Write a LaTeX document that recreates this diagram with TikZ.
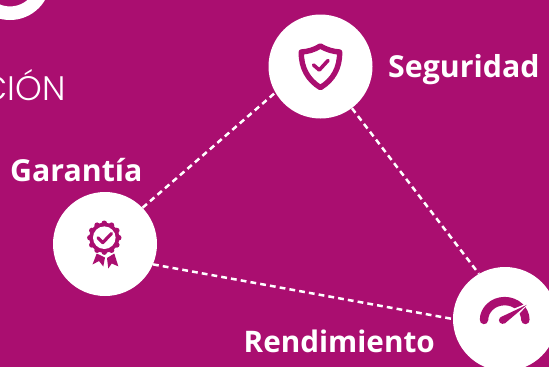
\documentclass[tikz,border=0pt]{standalone}
\usepackage{fontspec}
\setmainfont{Open Sans}[UprightFont=* Bold,BoldFont=* Bold]
\newfontfamily\thinfont{Poppins}[UprightFont=* Light]
\definecolor{mag}{HTML}{AA0E70}
\tikzset{
  hub/.style={circle,fill=white,draw=none,minimum size=104pt,inner sep=0pt},
  link/.style={draw=white,line width=2.5pt,dash pattern=on 5.8pt off 4.1pt},
  lab/.style={text=white,font=\fontsize{30.3}{32}\selectfont,inner sep=0pt,anchor=base west},
  ico/.style={draw=mag,line join=round,line cap=round},
  tick/.style={ico,line width=3.6pt}
}
\begin{document}
\begin{tikzpicture}[x=1pt,y=-1pt]
\useasboundingbox (0,0) rectangle (549,367);
\fill[mag] (0,0) rectangle (549,367);
\begin{scope}
\clip (0,0) rectangle (549,367);
% partial ring, top left
\draw[white,line width=13.6pt] (10,-20.6) circle[radius=33.8pt];
\node[text=white,font=\thinfont\fontsize{34}{34}\selectfont,inner sep=0pt,anchor=base east] (cion) at (66,100) {CIÓN};
% hubs
\node[hub] (seg) at (320.5,66.5) {};
\node[hub] (gar) at (105,244) {};
\node[hub] (ren) at (505,319) {};
% connectors
\path[link] (gar.44) -- (seg.210);
\path[link] (seg.-53) -- (ren.120);
\path[link] (gar.-23) -- (ren.180);
% labels
\node[lab] (lseg) at (388,77) {Seguridad};
\node[lab] (lgar) at (10,181) {Garantía};
\node[lab,font=\fontsize{29.7}{32}\selectfont] (lren) at (243.5,352) {Rendimiento};
% shield icon
\draw[ico,line width=5.4pt] (320.4,46) .. controls (314,50) and (308,51.5) .. (301.3,52)
  .. controls (301,68) and (308,80) .. (320.4,87.6)
  .. controls (333,80) and (340,68) .. (339.6,52)
  .. controls (333,51.5) and (327,50) .. cycle;
\draw[tick] (313.5,65) -- (319.3,70) -- (328,60.5);
% medal icon
\foreach \a in {0,30,...,330}{
  \fill[mag] (104.3,237.7) ++(\a:14.4pt) circle[radius=2.8pt];
}
\fill[mag] (104.3,237.7) circle[radius=15pt];
\fill[white] (104.3,237.7) circle[radius=11.3pt];
\draw[tick,line width=3.2pt] (98,237.8) -- (102.8,242.6) -- (111.5,233.5);
\fill[mag] (96.7,253.5) -- (92.5,264.5) -- (99,261) -- (103.3,266.5) -- (105,257.5) -- cycle;
\fill[mag] (107,258) -- (108.3,268.5) -- (111.7,263.5) -- (118.3,266.3) -- (114.3,253.5) -- cycle;
% gauge icon
\draw[ico,line width=8.4pt,line cap=round] (484,320) arc[start angle=180,end angle=0,x radius=20.7pt,y radius=18.9pt];
\fill[white] (500,314.5) -- (530,302) -- (510,324) -- cycle;
\fill[mag] (526.8,304.8) -- (501,317) -- (504.6,323.6) -- cycle;
\fill[mag] (502.6,320.2) circle[radius=3.7pt];
\end{scope}
\end{tikzpicture}
\end{document}
